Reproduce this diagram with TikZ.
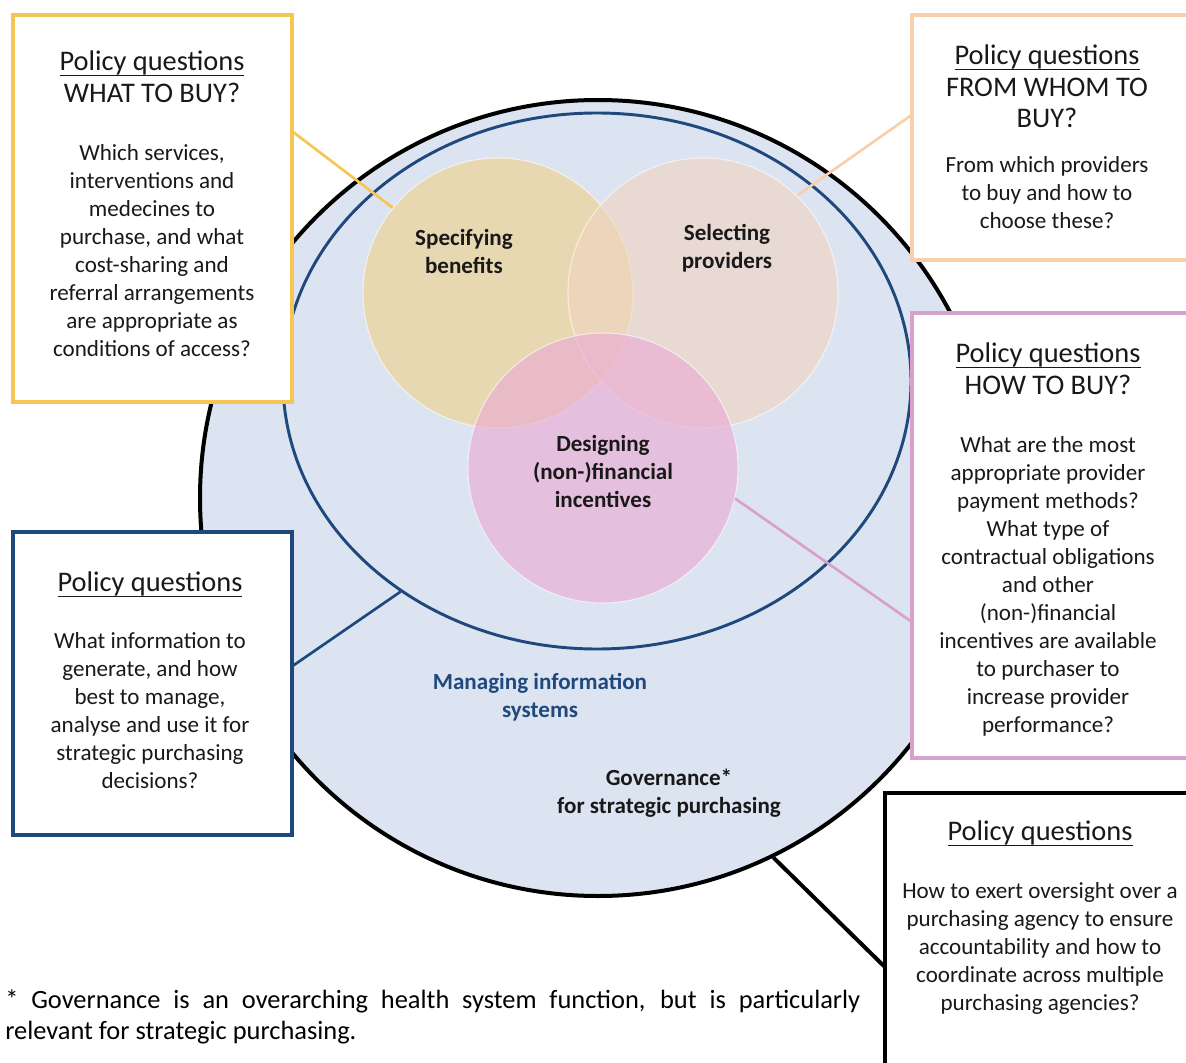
\documentclass[tikz,border=0pt]{standalone}
\usepackage{fontspec}
\setmainfont{Carlito}
\usetikzlibrary{shapes.geometric,positioning}

\definecolor{ringfill}{RGB}{220,228,241}
\definecolor{navy}{RGB}{31,73,125}
\definecolor{gold}{RGB}{246,198,84}
\definecolor{peach}{RGB}{249,206,170}
\definecolor{orchid}{RGB}{216,160,204}
\definecolor{benefitfill}{RGB}{240,208,135}
\definecolor{providerfill}{RGB}{240,212,192}
\definecolor{incentivefill}{RGB}{234,172,212}
\definecolor{ink}{RGB}{25,25,25}

\newcommand{\headfont}{\fontsize{21.3pt}{23.6pt}\selectfont}
\newcommand{\bodyfont}{\fontsize{17.3pt}{21pt}\selectfont}
% underline sitting just under the descenders
\newcommand{\pq}{\underline{\raisebox{0pt}[\height][0.07em]{Policy questions}}}

\tikzset{
  qbox/.style={draw=#1, line width=2.3pt, fill=white, rectangle, inner sep=0pt, outer sep=0pt},
  qhead/.style={anchor=north, align=center, inner sep=0pt, font=\headfont, text=ink},
  qbody/.style={anchor=north, align=center, inner sep=0pt, font=\bodyfont, text=ink},
  venn/.style={circle, fill=#1, fill opacity=0.6, draw=white, draw opacity=0.6, line width=0.8pt, minimum size=202.5pt, inner sep=0pt},
  vennlabel/.style={align=center, font=\bodyfont\bfseries, text=ink, inner sep=0pt},
  link/.style={draw=#1, line width=2pt},
}

\begin{document}
\begin{tikzpicture}[x=0.75pt,y=0.75pt,yscale=-1,xscale=1]
\useasboundingbox (0,0) rectangle (1186,1063);
\clip (0,0) rectangle (1186,1063);

% purchasing circle and the information ring inside it
\node[circle, fill=ringfill, draw=black, line width=3pt, minimum size=597pt, inner sep=0pt] (purchasing) at (598,498) {};
\node[ellipse, draw=navy, line width=2.2pt, minimum width=471pt, minimum height=402pt, inner sep=0pt] (information) at (597,381) {};

% the three purchasing functions
\node[venn=benefitfill] (benefits) at (498,293) {};
\node[venn=providerfill] (providers) at (703,293) {};
\node[venn=incentivefill, fill opacity=0.65] (incentives) at (603,468) {};

\node[vennlabel] (benefitslabel) at (464,251) {Specifying\\benefits};
\node[vennlabel] (providerslabel) at (727,248) {Selecting\\providers};
\node[vennlabel] (incentiveslabel) at (603,471) {Designing\\(non-)financial\\incentives};
\node[vennlabel, text=navy] (infolabel) at (540,697) {Managing information\\systems};
\node[vennlabel] (govlabel) at (669,793) {Governance*\\for strategic purchasing};

% question boxes
\node[qbox=gold, minimum width=209.25pt, minimum height=290.25pt] (whatbox) at (152.5,208.5) {};
\node[qbox=peach, minimum width=216pt, minimum height=183.75pt] (whombox) at (1056,137.5) {};
\node[qbox=orchid, minimum width=216pt, minimum height=333.75pt] (howbox) at (1056,535.5) {};
\node[qbox=navy, minimum width=209.25pt, minimum height=227.25pt] (infobox) at (152.5,683.5) {};
\node[qbox=black, minimum width=236.25pt, minimum height=215.25pt] (govbox) at (1042.5,936.5) {};

% links from the boxes to the diagram
\draw[link=gold] (whatbox.29.4) -- (benefits.141);
\draw[link=peach] (whombox.171.1) -- (providers.46);
\draw[link=orchid] (howbox.211.3) -- (incentives.347.4);
\draw[link=navy] (infobox.7.5) -- (information.227);
\draw[link=black, line width=3pt] (govbox.191) -- (purchasing.296);

% box texts
\node[qhead] (whathead) at (152,51) {\pq\\WHAT TO BUY?};
\node[qbody] (whatbody) at (152,144) {Which services,\\interventions and\\medecines to\\purchase, and what\\cost-sharing and\\referral arrangements\\are appropriate as\\conditions of access?};

\node[qhead] (whomhead) at (1047,45) {\pq\\FROM WHOM TO\\BUY?};
\node[qbody] (whombody) at (1047,156) {From which providers\\to buy and how to\\choose these?};

\node[qhead] (howhead) at (1048,343) {\pq\\HOW TO BUY?};
\node[qbody] (howbody) at (1048,436) {What are the most\\appropriate provider\\payment methods?\\What type of\\contractual obligations\\and other\\(non-)financial\\incentives are available\\to purchaser to\\increase provider\\performance?};

\node[qhead] (infohead) at (150,572) {\pq};
\node[qbody] (infobody) at (150,632) {What information to\\generate, and how\\best to manage,\\analyse and use it for\\strategic purchasing\\decisions?};

\node[qhead] (govhead) at (1040,821) {\pq};
\node[qbody] (govbody) at (1040,882) {How to exert oversight over a\\purchasing agency to ensure\\accountability and how to\\coordinate across multiple\\purchasing agencies?};

% footnote
\node[anchor=west, text width=641.25pt, align=justify, inner sep=0pt, font=\fontsize{19.8pt}{23.25pt}\selectfont] (footnote) at (5,1016.5) {* Governance is an overarching health system function, but is particularly\linebreak relevant for strategic purchasing.};

\end{tikzpicture}
\end{document}
